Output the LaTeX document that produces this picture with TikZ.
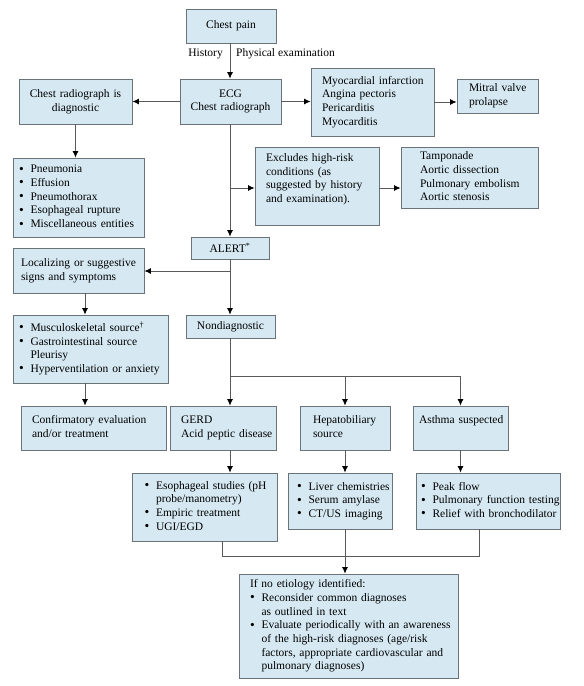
\documentclass[tikz,border=0pt]{standalone}
\usepackage{fontspec}
\setmainfont{Liberation Serif}
\usetikzlibrary{arrows.meta}
\definecolor{boxfill}{RGB}{214,233,243}
\definecolor{boxline}{RGB}{105,115,120}
\definecolor{conn}{RGB}{90,90,90}
\newcommand{\tl}[1]{\begin{tabular}{@{}l@{}}#1\end{tabular}}
\newcommand{\ins}[1]{\hspace*{#1}}
\newcommand{\bl}{\makebox[11.5pt][l]{\raisebox{-0.4pt}{\fontsize{13.5}{13.7}\selectfont\textbullet}}}
\newcommand{\ind}{\hspace*{11.5pt}}
\begin{document}
\begin{tikzpicture}[x=1pt,y=-1pt,
  font=\fontsize{11.5}{13.7}\selectfont,
  box/.style={draw=boxline, fill=boxfill, line width=0.9pt, inner xsep=0pt, inner ysep=0pt, align=left},
  cbox/.style={box, align=center},
  line/.style={draw=conn, line width=0.8pt},
  arr/.style={line, -{Latex[length=6.5pt,width=6pt,color=black]}},
  lbl/.style={inner sep=0pt}]
\useasboundingbox (0,0) rectangle (584,686);

\node[cbox, text width=90pt, minimum height=34pt] (cp) at (231,26) {Chest pain};
\node[cbox, text width=101pt, minimum height=45pt] (ecg) at (230.5,101.5) {ECG\\Chest radiograph};
\node[cbox, text width=113pt, minimum height=45pt] (diag) at (75.5,101.5) {Chest radiograph is\\diagnostic};
\node[box, text width=123pt, minimum height=68pt] (mi) at (372.5,102) {\ins{11pt}\tl{Myocardial infarction\\Angina pectoris\\Pericarditis\\Myocarditis}};
\node[box, text width=81pt, minimum height=34pt] (mvp) at (497.5,96) {\ins{12pt}\tl{Mitral valve\\prolapse}};
\node[box, text width=131pt, minimum height=79pt] (pn) at (78.5,197.5) {\ins{6pt}\tl{\bl Pneumonia\\\bl Effusion\\\bl Pneumothorax\\\bl Esophageal rupture\\\bl Miscellaneous entities}};
\node[box, text width=124pt, minimum height=78pt] (exc) at (317,186) {\ins{11pt}\tl{Excludes high-risk\\conditions (as\\suggested by history\\and examination).\\\mbox{}}};
\node[box, text width=137pt, minimum height=61pt] (tam) at (469.5,177.5) {\ins{19pt}\tl{Tamponade\\Aortic dissection\\Pulmonary embolism\\Aortic stenosis}};
\node[cbox, text width=78pt, minimum height=22pt] (alert) at (230,248) {ALERT\textsuperscript{*}};
\node[box, text width=131pt, minimum height=45pt] (loc) at (78.5,270.5) {\ins{8pt}\tl{Localizing or suggestive\\signs and symptoms}};
\node[cbox, text width=89pt, minimum height=23pt] (nd) at (230.5,326.5) {Nondiagnostic};
\node[box, text width=155pt, minimum height=68pt] (msk) at (90.5,349) {\ins{6pt}\tl{\bl Musculoskeletal source\textsuperscript{\textdagger}\\\bl Gastrointestinal source\\\ind Pleurisy\\\bl Hyperventilation or anxiety}};
\node[box, text width=145pt, minimum height=44pt] (conf) at (93.5,428) {\ins{11pt}\tl{Confirmatory evaluation\\and/or treatment}};
\node[box, text width=106pt, minimum height=44pt] (gerd) at (223,428) {\ins{11pt}\tl{GERD\\Acid peptic disease}};
\node[box, text width=90pt, minimum height=44pt] (hep) at (345,428) {\ins{13pt}\tl{Hepatobiliary\\source}};
\node[box, text width=95pt, minimum height=44pt] (ast) at (460.5,428) {\ins{6pt}\tl{Asthma suspected\\\mbox{}}};
\node[box, text width=145pt, minimum height=68pt] (eso) at (204.5,507) {\ins{12.5pt}\tl{\bl Esophageal studies (pH\\\ind probe/manometry)\\\bl Empiric treatment\\\bl UGI/EGD}};
\node[box, text width=104pt, minimum height=56pt] (liv) at (340,501) {\ins{9pt}\tl{\bl Liver chemistries\\\bl Serum amylase\\\bl CT/US imaging}};
\node[box, text width=144pt, minimum height=56pt] (pk) at (488,501) {\ins{5pt}\tl{\bl Peak flow\\\bl Pulmonary function testing\\\bl Relief with bronchodilator}};
\node[box, text width=219pt, minimum height=104pt] (fin) at (348.5,626) {\ins{11pt}\tl{If no etiology identified:\\\bl Reconsider common diagnoses\\\ind as outlined in text\\\bl Evaluate periodically with an awareness\\\ind of the high-risk diagnoses (age/risk\\\ind factors, appropriate cardiovascular and\\\ind pulmonary diagnoses)}};

\node[lbl, anchor=east] (hist) at (223,54) {History};
\node[lbl, anchor=west] (phys) at (236,54) {Physical examination};

\coordinate (xM) at (230,0);
\coordinate (xL) at (85,0);
\coordinate (j1) at (230,188);
\coordinate (j2) at (230,271);
\coordinate (j4) at (230,376);
\coordinate (xE) at (222,556);
\coordinate (xP) at (479,556);

\draw[arr] (xM |- cp.south) -- (xM |- ecg.north);
\draw[arr] (ecg.west) -- (diag.east);
\draw[arr] (ecg.east) -- (ecg.east -| mi.west);
\draw[arr] (mi.east) -- (mi.east -| mvp.west);
\draw[arr] (diag.south) -- (diag.south |- pn.north);
\draw[arr] (xM |- ecg.south) -- (xM |- alert.north);
\draw[arr] (j1) -- (j1 -| exc.west);
\draw[arr] (j1 -| exc.east) -- (j1 -| tam.west);
\draw[arr] (j2) -- (j2 -| loc.east);
\draw[arr] (xM |- alert.south) -- (xM |- nd.north);
\draw[arr] (xL |- loc.south) -- (xL |- msk.north);
\draw[arr] (xL |- msk.south) -- (xL |- conf.north);
\draw[arr] (xM |- nd.south) -- (xM |- gerd.north);
\draw[arr] (j4) -| (hep.north);
\draw[arr] (j4) -| (ast.north);
\draw[arr] (xM |- gerd.south) -- (xM |- eso.north);
\draw[arr] (hep.south) -- (hep.south |- liv.north);
\draw[arr] (ast.south) -- (ast.south |- pk.north);
\draw[line] (xE |- eso.south) -- (xE) -- (xP) -- (xP |- pk.south);
\draw[arr] (hep.south |- liv.south) -- (hep.south |- fin.north);
\end{tikzpicture}
\end{document}
